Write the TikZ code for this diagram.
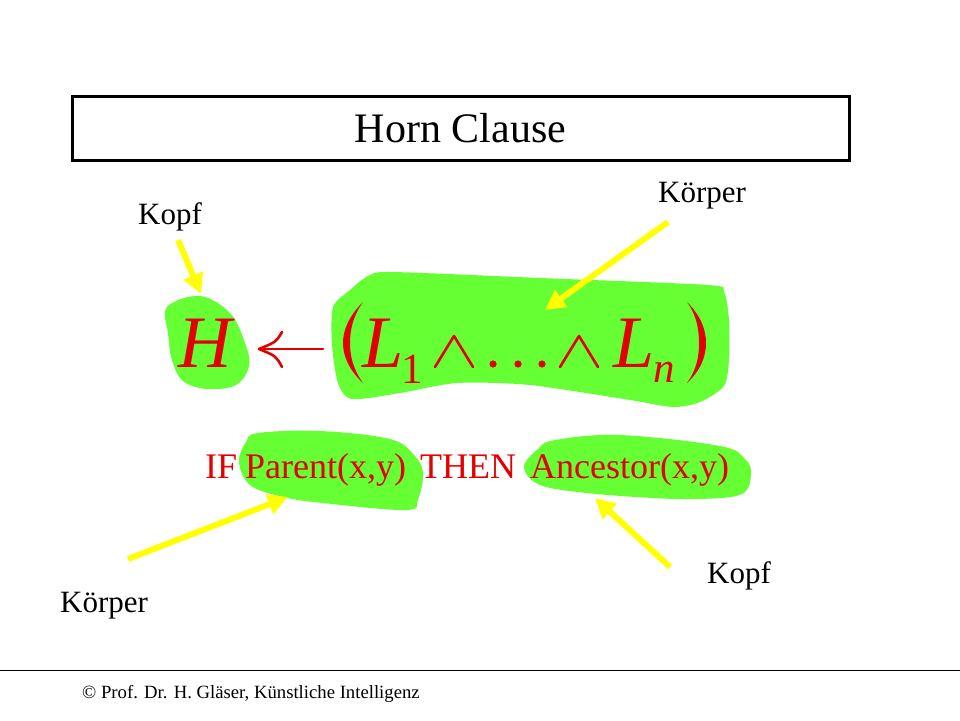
\documentclass[tikz,border=0pt]{standalone}
\usepackage{fontspec}
\setmainfont{Liberation Serif}
\usetikzlibrary{arrows.meta}
\definecolor{hred}{RGB}{226,0,0}
\definecolor{hgreen}{RGB}{102,255,51}
\definecolor{hyellow}{RGB}{255,255,0}
\tikzset{
  blob/.style={fill=hgreen, draw=none},
  pointer/.style={draw=hyellow, line width=6pt, -{Triangle[length=20pt,width=20pt]}},
  lbl/.style={anchor=base west, inner sep=0pt, font=\rmfamily\fontsize{31}{36}\selectfont},
  redtxt/.style={anchor=base west, inner sep=0pt, text=hred, font=\rmfamily\fontsize{36}{42}\selectfont},
  bigit/.style={anchor=base west, inner sep=0pt, text=hred, font=\rmfamily\fontsize{74}{80}\selectfont\itshape},
  subup/.style={anchor=base west, inner sep=0pt, text=hred, font=\rmfamily\fontsize{43}{48}\selectfont},
  subit/.style={anchor=base west, inner sep=0pt, text=hred, font=\rmfamily\fontsize{43}{48}\selectfont\itshape},
  formline/.style={draw=hred, line width=2.6pt, line cap=round, line join=round},
}
\begin{document}
\begin{tikzpicture}[x=1pt,y=-1pt]
\useasboundingbox (0,0) rectangle (960,720);
\fill[white] (0,0) rectangle (960,720);
% title box
\node[draw=black, line width=3pt, minimum width=777pt, minimum height=64pt, inner sep=0pt, font=\rmfamily\fontsize{42}{48}\selectfont] (title) at (460.5,128) {Horn Clause};
% green blobs
\fill[blob] plot[smooth cycle, tension=0.6] coordinates {(167,307) (200,296) (230,313) (245,343) (249,366) (236,385) (207,389) (183,381) (172,360) (168,333)};
\fill[blob] plot[smooth cycle, tension=0.45] coordinates {(333,307) (350,290) (368,276) (392,272) (540,278) (708,285) (724,292) (729,320) (729,360) (724,386) (700,402) (673,407) (630,400) (530,385) (457,383) (400,393) (352,399) (338,383) (332,345)};
\fill[blob] plot[smooth cycle, tension=0.6] coordinates {(239,462) (246,442) (258,433) (320,431) (390,439) (414,455) (423,473) (418,499) (406,510) (323,503) (283,497) (250,485)};
\fill[blob] plot[smooth cycle, tension=0.6] coordinates {(524,467) (538,449) (555,440) (620,435) (720,446) (745,459) (751,474) (742,494) (700,499) (653,498) (587,493) (540,485)};
% formula
\node[bigit] (H) at (178,367) {H};
\coordinate (arrtip) at (259,349);
\coordinate (arrtail) at (323,349);
\draw[formline] (arrtail) -- (arrtip);
\draw[formline] (282,332) .. controls (276,342) .. (arrtip) .. controls (276,356) .. (282,367);
% left paren
\fill[hred] (363,302) .. controls (349,316) and (343,330) .. (343,343) .. controls (343,356) and (349,370) .. (363,383) .. controls (353,369) and (350,356) .. (350,343) .. controls (350,330) and (353,316) .. (363,302) -- cycle;
\node[bigit] (L1) at (362,367) {L};
\node[subup] (one) at (401,383) {1};
\draw[formline] (435,367) -- (454,336) -- (473,367);
\foreach \xx in {493,518,542} \fill[hred] (\xx,364) circle (3.6pt);
\draw[formline] (560,367) -- (579,336) -- (598,367);
\node[bigit] (Ln) at (613,367) {L};
\node[subit] (n) at (653,382) {n};
% right paren
\fill[hred] (687,302) .. controls (701,316) and (706,330) .. (706,343) .. controls (706,356) and (701,370) .. (687,383) .. controls (697,369) and (699,356) .. (699,343) .. controls (699,330) and (697,316) .. (687,302) -- cycle;
% example
\node[redtxt] (if) at (205,478) {IF};
\node[redtxt] (parent) at (245,478) {Parent(x,y)};
\node[redtxt] (then) at (420,478) {THEN};
\node[redtxt] (anc) at (530,478) {Ancestor(x,y)};
% labels
\node[lbl] (kopf1) at (138,224) {Kopf};
\node[lbl] (koerper1) at (658,202) {Körper};
\node[lbl] (koerper2) at (60,612) {Körper};
\node[lbl] (kopf2) at (707,583) {Kopf};
% yellow pointers
\coordinate (p1s) at (178,240); \coordinate (p1e) at (201,294);
\coordinate (p2s) at (668,222); \coordinate (p2e) at (545,310);
\coordinate (p3s) at (128,559); \coordinate (p3e) at (288,497);
\coordinate (p4s) at (670,567); \coordinate (p4e) at (595,498);
\draw[pointer] (p1s) -- (p1e);
\draw[pointer] (p2s) -- (p2e);
\draw[pointer] (p3s) -- (p3e);
\draw[pointer] (p4s) -- (p4e);
% footer
\coordinate (fl) at (0,670); \coordinate (fr) at (960,670);
\draw[line width=1pt] (fl) -- (fr);
\node[anchor=base west, inner sep=0pt, font=\rmfamily\fontsize{18.7}{22}\selectfont] (footer) at (82,698) {© Prof. Dr. H. Gläser, Künstliche Intelligenz};
\end{tikzpicture}
\end{document}
